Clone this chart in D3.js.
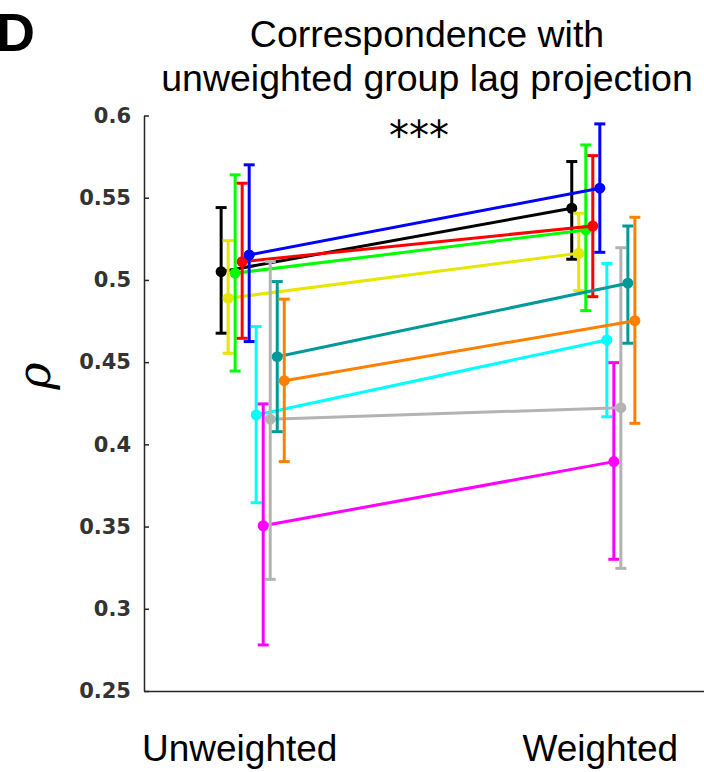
<!DOCTYPE html>
<html>
<head>
<meta charset="utf-8">
<script src="https://cdn.jsdelivr.net/npm/d3@7"></script>
<style>
  html, body { margin: 0; padding: 0; background: #fff; }
  svg { display: block; }
</style>
</head>
<body>
<svg id="chart" width="704" height="772"></svg>
<script>
// Conditions on the x axis
const categories = ["Unweighted", "Weighted"];

// One series per colour; each has a mean and an interval at both conditions
const seriesNames = ["s1", "s2", "s3", "s4", "s5", "s6", "s7", "s8", "s9", "s10"];
const seriesColors = ["#000000", "#e6e600", "#00ff00", "#ff0000", "#0000ff",
                      "#00ffff", "#ff00ff", "#b3b3b3", "#009999", "#ff8000"];

// Mean rho [Unweighted, Weighted]
const meanValues = [
  [0.505, 0.5436],
  [0.4889, 0.5162],
  [0.5041, 0.5304],
  [0.5111, 0.5328],
  [0.5152, 0.5558],
  [0.4179, 0.4635],
  [0.3505, 0.3895],
  [0.4153, 0.4223],
  [0.4533, 0.4980],
  [0.4387, 0.4752]
];
// Upper ends of the error bars
const upperValues = [
  [0.544, 0.572],
  [0.5239, 0.5406],
  [0.5639, 0.5821],
  [0.5588, 0.5756],
  [0.570, 0.5949],
  [0.4716, 0.510],
  [0.4246, 0.4497],
  [0.5111, 0.5196],
  [0.499, 0.5328],
  [0.4883, 0.5381]
];
// Lower ends of the error bars
const lowerValues = [
  [0.4676, 0.5126],
  [0.4554, 0.4935],
  [0.4446, 0.4813],
  [0.4645, 0.4898],
  [0.4625, 0.5168],
  [0.3645, 0.4168],
  [0.278, 0.3301],
  [0.3179, 0.3246],
  [0.4077, 0.4615],
  [0.3895, 0.4128]
];

const yTicks = [0.25, 0.3, 0.35, 0.4, 0.45, 0.5, 0.55, 0.6];
const yTickLabels = ["0.25", "0.3", "0.35", "0.4", "0.45", "0.5", "0.55", "0.6"];
const titleLines = ["Correspondence with", "unweighted group lag projection"];
const panelLetter = "D";
const significance = "***";
const yLabel = "\u03C1";

// Horizontal dodge of each series around its condition
const dodge = seriesNames.map((_, i) => (i - 4) * 0.02);

const svg = d3.select("#chart");
const margin = { left: 144, top: 115.5, bottom: 691, right: 705 };

const x = d3.scaleLinear().domain([0.7, 2.3]).range([margin.left, margin.right]);
const y = d3.scaleLinear().domain([0.25, 0.6]).range([margin.bottom, margin.top]);

const axisColor = "#262626";

// Y axis, ticks pointing into the plot
const yAxis = svg.append("g")
  .attr("transform", `translate(${margin.left},0)`)
  .call(d3.axisLeft(y).tickValues(yTicks)
    .tickFormat((d, i) => yTickLabels[i])
    .tickSizeInner(-5).tickSizeOuter(0).tickPadding(13));
yAxis.select(".domain").attr("stroke", axisColor).attr("stroke-width", 1.5);
yAxis.selectAll(".tick line").attr("stroke", axisColor).attr("stroke-width", 1.5);
yAxis.selectAll(".tick text")
  .attr("fill", "#333333")
  .style("font-family", "'DejaVu Sans', sans-serif")
  .style("font-weight", "bold")
  .style("font-size", "21px");

// X axis without ticks
const xAxis = svg.append("g")
  .attr("transform", `translate(0,${margin.bottom})`)
  .call(d3.axisBottom(x).tickValues([1, 2])
    .tickFormat((d, i) => categories[i])
    .tickSize(0).tickPadding(44));
xAxis.select(".domain").attr("stroke", axisColor).attr("stroke-width", 1.5);
xAxis.selectAll(".tick text")
  .attr("fill", "#000")
  .attr("dx", (d, i) => i === 0 ? -10 : 0)
  .style("font-family", "'Liberation Sans', Arial, sans-serif")
  .style("font-size", "37px");

// Series: connecting line, error bars with caps, and markers
const capHalf = 5.5;
seriesNames.forEach((name, s) => {
  const g = svg.append("g").attr("class", "series " + name);
  const col = seriesColors[s];
  const pts = categories.map((c, k) => ({
    x: x(k + 1 + dodge[s]),
    m: y(meanValues[s][k]),
    hi: y(upperValues[s][k]),
    lo: y(lowerValues[s][k])
  }));

  g.append("path")
    .attr("d", d3.line().x(d => d.x).y(d => d.m)(pts))
    .attr("fill", "none").attr("stroke", col).attr("stroke-width", 3);

  pts.forEach(p => {
    g.append("line")
      .attr("x1", p.x).attr("x2", p.x).attr("y1", p.hi).attr("y2", p.lo)
      .attr("stroke", col).attr("stroke-width", 3);
    [p.hi, p.lo].forEach(v => {
      g.append("line")
        .attr("x1", p.x - capHalf).attr("x2", p.x + capHalf)
        .attr("y1", v).attr("y2", v)
        .attr("stroke", col).attr("stroke-width", 3);
    });
    g.append("circle")
      .attr("cx", p.x).attr("cy", p.m).attr("r", 5.5)
      .attr("fill", col);
  });
});

// Significance marker between the conditions
svg.append("text")
  .attr("x", 419).attr("y", 150)
  .attr("text-anchor", "middle")
  .style("font-family", "'DejaVu Sans', sans-serif")
  .style("font-size", "40px")
  .text(significance);

// Title
svg.append("text")
  .attr("text-anchor", "middle")
  .style("font-family", "'Liberation Sans', Arial, sans-serif")
  .style("font-size", "37.5px")
  .selectAll("tspan").data(titleLines).join("tspan")
  .attr("x", 427).attr("y", (d, i) => 47 + i * 44)
  .text(d => d);

// Y label
svg.append("text")
  .attr("transform", "translate(50,376) rotate(-90)")
  .attr("text-anchor", "middle")
  .style("font-family", "'DejaVu Serif', serif")
  .style("font-style", "italic")
  .style("font-size", "46px")
  .text(yLabel);

// Panel letter
svg.append("text")
  .attr("x", -4).attr("y", 51)
  .style("font-family", "'Liberation Sans', Arial, sans-serif")
  .style("font-weight", "bold")
  .style("font-size", "54px")
  .text(panelLetter);
</script>
</body>
</html>
